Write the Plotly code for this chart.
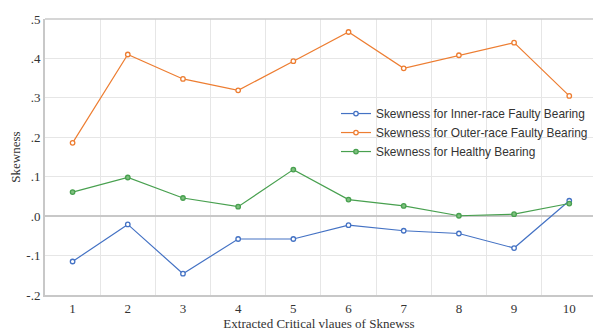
import plotly.graph_objects as go

# Critical value index (x) and skewness of each bearing condition
positions = [1, 2, 3, 4, 5, 6, 7, 8, 9, 10]
inner_race = [-0.115, -0.021, -0.146, -0.058, -0.058, -0.023, -0.037, -0.044, -0.081, 0.039]
outer_race = [0.186, 0.410, 0.348, 0.319, 0.393, 0.467, 0.375, 0.408, 0.440, 0.305]
healthy = [0.061, 0.098, 0.046, 0.024, 0.118, 0.042, 0.026, 0.001, 0.005, 0.032]

y_tick_vals = [0.5, 0.4, 0.3, 0.2, 0.1, 0.0, -0.1, -0.2]
y_tick_text = [".5", ".4", ".3", ".2", ".1", ".0", "-.1", "-.2"]

series = [
    ("Skewness for Inner-race Faulty Bearing", inner_race, "#4472C4", "white"),
    ("Skewness for Outer-race Faulty Bearing", outer_race, "#ED7D31", "white"),
    ("Skewness for Healthy Bearing", healthy, "#48A04F", "#7FC07F"),
]

fig = go.Figure()
for name, vals, color, fill in series:
    fig.add_trace(go.Scatter(
        x=positions, y=vals, name=name, mode="lines+markers",
        line=dict(color=color, width=1.2),
        marker=dict(symbol="circle", size=4.5, color=fill,
                    line=dict(color=color, width=1.3)),
    ))

serif = "Liberation Serif"
fig.update_layout(
    width=593, height=331,
    margin=dict(l=45, r=0, t=19, b=36),
    paper_bgcolor="white", plot_bgcolor="white",
    showlegend=True,
    legend=dict(
        x=0.531, y=0.71, xanchor="left", yanchor="top",
        bgcolor="rgba(0,0,0,0)",
        font=dict(family="Liberation Sans", size=11.9, color="#333333"),
        tracegroupgap=0,
    ),
    xaxis=dict(
        range=[0.5, 10.43],
        tickvals=positions, ticktext=[str(p) for p in positions],
        showgrid=False, zeroline=False,
        ticks="", ticklen=0,
        tickfont=dict(family=serif, size=13, color="#333333"),
        title=dict(text="Extracted Critical vlaues of Sknewss",
                   font=dict(family=serif, size=13, color="#333333"),
                   standoff=0),
        minor=dict(tick0=0.5, dtick=1, showgrid=True,
                   gridcolor="#E6E6E6", gridwidth=1, ticks=""),
        showline=True, linecolor="#C8C8C8", linewidth=2, mirror=False,
    ),
    yaxis=dict(
        range=[-0.2, 0.5],
        tickvals=y_tick_vals, ticktext=y_tick_text,
        showgrid=True, gridcolor="#E6E6E6", gridwidth=1,
        zeroline=True, zerolinecolor="#C8C8C8", zerolinewidth=2,
        ticks="", ticklen=0,
        tickfont=dict(family=serif, size=13, color="#333333"),
        title=dict(text="Skewness",
                   font=dict(family=serif, size=13, color="#333333"),
                   standoff=3),
        showline=True, linecolor="#C8C8C8", linewidth=2, mirror=False,
    ),
)

# Thin frame line along the top of the plotting area
fig.add_shape(type="line", xref="paper", yref="paper",
              x0=0, x1=1, y0=1, y1=1,
              line=dict(color="#C8C8C8", width=1.5))

fig.write_html("out.html")
